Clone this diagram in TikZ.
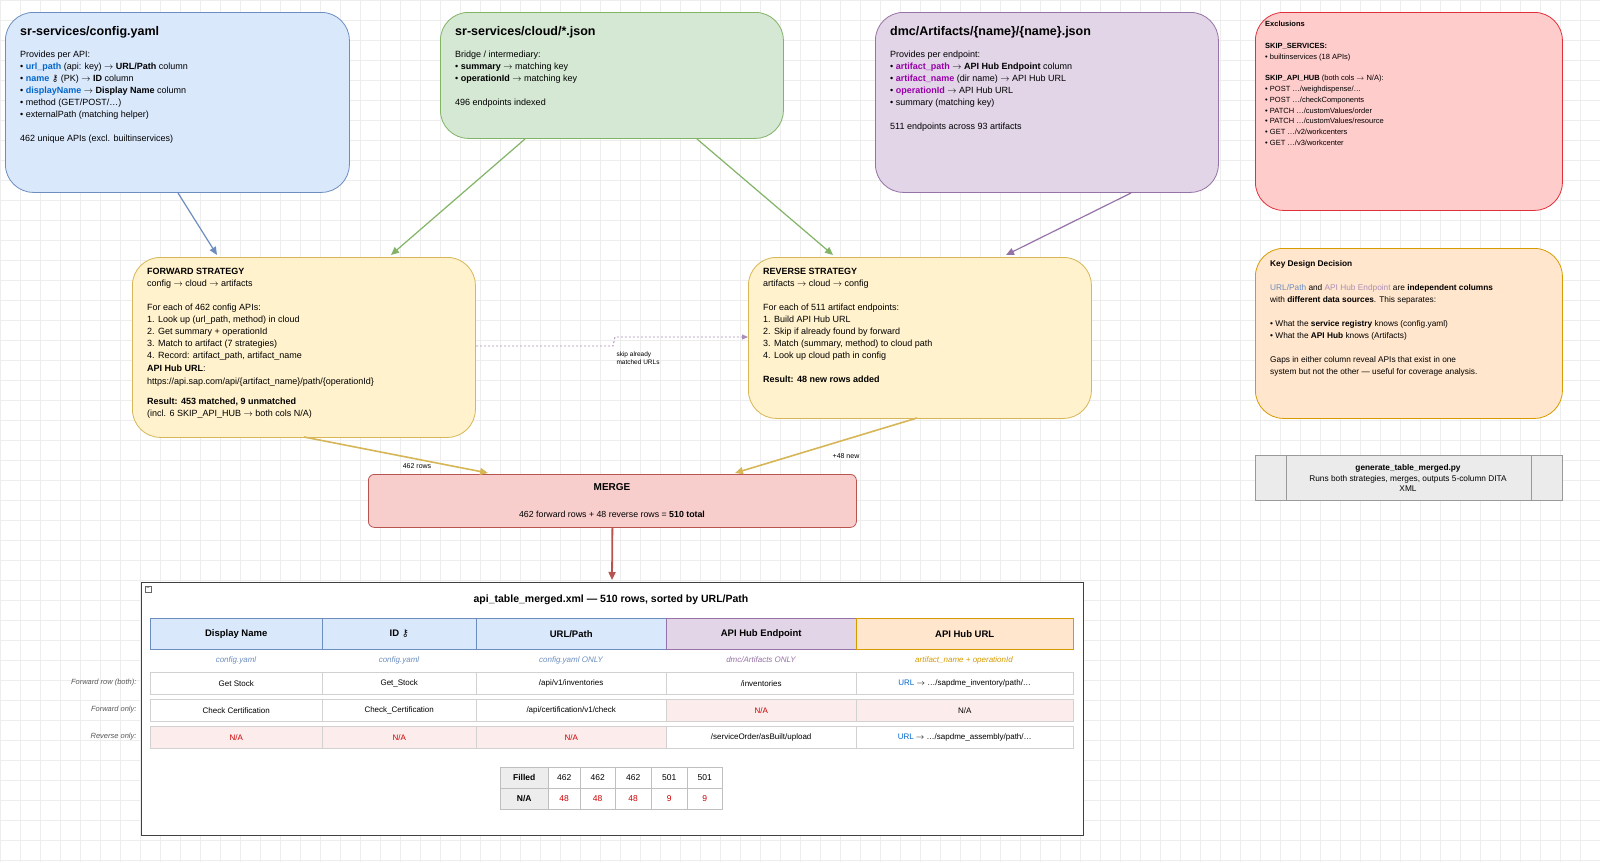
\documentclass[tikz,border=0pt]{standalone}
\usepackage{fontspec}
\setmainfont{Liberation Sans}
\newfontfamily\sym{DejaVu Sans}
\usetikzlibrary{arrows.meta}
\definecolor{bfill}{HTML}{DAE8FC}\definecolor{bline}{HTML}{6C8EBF}
\definecolor{gfill}{HTML}{D5E8D4}\definecolor{gline}{HTML}{82B366}
\definecolor{pfill}{HTML}{E1D5E7}\definecolor{pline}{HTML}{9673A6}
\definecolor{rfill}{HTML}{FFCCCC}\definecolor{rline}{HTML}{E0303A}
\definecolor{yfill}{HTML}{FFF2CC}\definecolor{yline}{HTML}{D6B656}
\definecolor{ofill}{HTML}{FFE6CC}\definecolor{oline}{HTML}{D79B00}
\definecolor{mfill}{HTML}{F8CECC}\definecolor{mline}{HTML}{B85450}
\definecolor{lnk}{HTML}{0066CC}\definecolor{art}{HTML}{9900AA}
\definecolor{nared}{HTML}{CC0000}\definecolor{nafill}{HTML}{FDECEC}
\definecolor{gridc}{HTML}{EDEDED}
\newcommand{\arr}{\(\rightarrow\)}
\newcommand{\keysym}{{\sym ⚷}}
\tikzset{
  x=1pt,y=-1pt,
  box/.style={draw,rounded corners=28pt,line width=0.8pt},
  txt/.style={anchor=north west,align=left,inner sep=0pt,font=\fontsize{9}{12}\selectfont},
  ttl/.style={anchor=west,inner sep=0pt,font=\fontsize{12.5}{14}\selectfont\bfseries},
  con/.style={line width=1.2pt,-{Triangle[length=8pt,width=7pt]}},
  hcell/.style={draw,minimum height=31pt,inner sep=0pt,font=\fontsize{9.5}{11}\selectfont\bfseries},
  cell/.style={draw=black!18,fill=white,minimum height=22pt,inner sep=0pt,font=\fontsize{8}{10}\selectfont},
  src/.style={font=\fontsize{8}{10}\selectfont\itshape},
  rlab/.style={anchor=east,font=\fontsize{7.5}{9}\selectfont\itshape,text=black!65},
  mc/.style={draw=black!25,minimum height=21pt,inner sep=0pt,font=\fontsize{8.5}{10}\selectfont},
}
\begin{document}
\begin{tikzpicture}
\fill[white] (0,0) rectangle (1600,862);
\draw[gridc,line width=0.6pt,step=20pt] (0,0) grid (1600,862);
% sources
\node[box,fill=bfill,draw=bline,minimum width=344pt,minimum height=180pt,anchor=north west] (cfg) at (5,12) {};
\node[ttl] (cfgt) at (20,32) {sr-services/config.yaml};
\node[txt] (cfgb) at (20,51) {Provides per API:\\
• {\bfseries\color{lnk}url\_path} (api: key) \arr{} \textbf{URL/Path} column\\
• {\bfseries\color{lnk}name} \keysym{} (PK) \arr{} \textbf{ID} column\\
• {\bfseries\color{lnk}displayName} \arr{} \textbf{Display Name} column\\
• method (GET/POST/…)\\
• externalPath (matching helper)\\[12pt]
462 unique APIs (excl. builtinservices)};

\node[box,fill=gfill,draw=gline,minimum width=343pt,minimum height=126pt,anchor=north west] (cld) at (440,12) {};
\node[ttl] (cldt) at (455,32) {sr-services/cloud/*.json};
\node[txt] (cldb) at (455,51) {Bridge / intermediary:\\
• \textbf{summary} \arr{} matching key\\
• \textbf{operationId} \arr{} matching key\\[12pt]
496 endpoints indexed};

\node[box,fill=pfill,draw=pline,minimum width=343pt,minimum height=180pt,anchor=north west] (art) at (875,12) {};
\node[ttl] (artt) at (890,32) {dmc/Artifacts/\{name\}/\{name\}.json};
\node[txt] (artb) at (890,51) {Provides per endpoint:\\
• {\bfseries\color{art}artifact\_path} \arr{} \textbf{API Hub Endpoint} column\\
• {\bfseries\color{art}artifact\_name} (dir name) \arr{} API Hub URL\\
• {\bfseries\color{art}operationId} \arr{} API Hub URL\\
• summary (matching key)\\[12pt]
511 endpoints across 93 artifacts};

\node[box,fill=rfill,draw=rline,minimum width=307pt,minimum height=198pt,anchor=north west] (exc) at (1255,12) {};
\node[txt,font=\fontsize{7.5}{10.8}\selectfont] (excb) at (1265,21) {\textbf{Exclusions}\\[10.8pt]
\textbf{SKIP\_SERVICES:}\\
• builtinservices (18 APIs)\\[10.8pt]
\textbf{SKIP\_API\_HUB} (both cols \arr{} N/A):\\
• POST …/weighdispense/…\\
• POST …/checkComponents\\
• PATCH …/customValues/order\\
• PATCH …/customValues/resource\\
• GET …/v2/workcenters\\
• GET …/v3/workcenter};

% strategies
\node[box,fill=yfill,draw=yline,minimum width=343pt,minimum height=180pt,anchor=north west] (fwd) at (132,257) {};
\node[txt] (fwdb) at (147,268) {\textbf{FORWARD STRATEGY}\\
config \arr{} cloud \arr{} artifacts\\[12pt]
For each of 462 config APIs:\\
1. Look up (url\_path, method) in cloud\\
2. Get summary + operationId\\
3. Match to artifact (7 strategies)\\
4. Record: artifact\_path, artifact\_name\\[1pt]
\textbf{API Hub URL}:\\[1pt]
https://api.sap.com/api/\{artifact\_name\}/path/\{operationId\}\\[8pt]
\textbf{Result: 453 matched, 9 unmatched}\\
(incl. 6 SKIP\_API\_HUB \arr{} both cols N/A)};

\node[box,fill=yfill,draw=yline,minimum width=343pt,minimum height=161pt,anchor=north west] (rev) at (748,257) {};
\node[txt] (revb) at (763,268) {\textbf{REVERSE STRATEGY}\\
artifacts \arr{} cloud \arr{} config\\[12pt]
For each of 511 artifact endpoints:\\
1. Build API Hub URL\\
2. Skip if already found by forward\\
3. Match (summary, method) to cloud path\\
4. Look up cloud path in config\\[12pt]
\textbf{Result: 48 new rows added}};

\node[box,fill=ofill,draw=oline,minimum width=307pt,minimum height=170pt,anchor=north west] (key) at (1255,248) {};
\node[txt,font=\fontsize{8.3}{12}\selectfont] (keyb) at (1270,260) {\textbf{Key Design Decision}\\[12pt]
{\color{bline}URL/Path} and {\color{pline!80}API Hub Endpoint} are \textbf{independent columns}\\
with \textbf{different data sources}. This separates:\\[12pt]
• What the \textbf{service registry} knows (config.yaml)\\
• What the \textbf{API Hub} knows (Artifacts)\\[12pt]
Gaps in either column reveal APIs that exist in one\\
system but not the other — useful for coverage analysis.};

\node[draw=black!40,fill=black!8,minimum width=307pt,minimum height=45pt,anchor=north west,inner sep=0pt] (scr) at (1255,455) {};
\draw[black!40] (1286,455) -- (1286,500) (1531,455) -- (1531,500);
\node[align=center,font=\fontsize{8.3}{10.5}\selectfont] (scrt) at (1408,478) {\textbf{generate\_table\_merged.py}\\Runs both strategies, merges, outputs 5-column DITA\\XML};

% merge
\node[draw=mline,fill=mfill,rounded corners=6pt,line width=0.8pt,minimum width=488pt,minimum height=53pt,anchor=north west] (mrg) at (368,474) {};
\node[font=\fontsize{10}{12}\selectfont\bfseries] (mrgt) at (612,487) {MERGE};
\node[font=\fontsize{8.8}{11}\selectfont] (mrgb) at (612,514) {462 forward rows + 48 reverse rows = \textbf{510 total}};

% connectors
\coordinate (c1) at (178,193); \coordinate (c2) at (217,255);
\draw[con,bline] (c1) -- (c2);
\coordinate (g1) at (525,139); \coordinate (g2) at (391,255);
\draw[con,gline] (g1) -- (g2);
\coordinate (g3) at (697,139); \coordinate (g4) at (833,255);
\draw[con,gline] (g3) -- (g4);
\coordinate (p1) at (1131,193); \coordinate (p2) at (1006,255);
\draw[con,pline] (p1) -- (p2);
\coordinate (d1) at (476,346); \coordinate (d2) at (748,337);
\draw[pline!80,line width=0.9pt,dash pattern=on 2pt off 2pt,-{Triangle[length=6pt,width=5pt]}] (d1) -- (613,346) -- (615,337) -- (d2);
\node[anchor=north west,align=left,font=\fontsize{6.5}{8}\selectfont] (dl) at (613,348) {skip already\\matched URLs};
\coordinate (y1) at (304,437); \coordinate (y2) at (488,473);
\draw[con,yline,line width=1.6pt] (y1) -- (y2);
\node[font=\fontsize{7}{8}\selectfont,fill=white,inner sep=1pt] (yl) at (417,466) {462 rows};
\coordinate (y3) at (917,418); \coordinate (y4) at (735,473);
\draw[con,yline,line width=1.6pt] (y3) -- (y4);
\node[font=\fontsize{7}{8}\selectfont,fill=white,inner sep=1pt] (yl2) at (846,456) {+48 new};
\coordinate (m1) at (612,580);
\draw[con,mline,line width=1.8pt] (mrg.south) -- (m1);

% table container
\node[draw=black!75,fill=white,line width=0.9pt,minimum width=942pt,minimum height=253pt,anchor=north west,inner sep=0pt] (tbl) at (141,582) {};
\node[draw=black!60,minimum size=6pt,inner sep=0pt,font=\fontsize{5}{5}\selectfont] (tmin) at (148,589) {--};
\node[font=\fontsize{10.5}{12}\selectfont\bfseries] (tt) at (611,600) {api\_table\_merged.xml — 510 rows, sorted by URL/Path};
% header
\node[hcell,fill=bfill,draw=bline,minimum width=172pt,anchor=north west] (h1) at (150,618) {Display Name};
\node[hcell,fill=bfill,draw=bline,minimum width=154pt,anchor=north west] (h2) at (322,618) {ID \keysym};
\node[hcell,fill=bfill,draw=bline,minimum width=190pt,anchor=north west] (h3) at (476,618) {URL/Path};
\node[hcell,fill=pfill,draw=pline,minimum width=190pt,anchor=north west] (h4) at (666,618) {API Hub Endpoint};
\node[hcell,fill=ofill,draw=oline,minimum width=217pt,anchor=north west] (h5) at (856,618) {API Hub URL};
\node[src,text=bline] (s1) at (236,660) {config.yaml};
\node[src,text=bline] (s2) at (399,660) {config.yaml};
\node[src,text=bline] (s3) at (571,660) {config.yaml ONLY};
\node[src,text=pline] (s4) at (761,660) {dmc/Artifacts ONLY};
\node[src,text=oline] (s5) at (964,660) {artifact\_name + operationId};
% rows
\node[rlab] (l1) at (140,683) {Forward row (both):};
\node[cell,minimum width=172pt,anchor=north west] (a1) at (150,672) {Get Stock};
\node[cell,minimum width=154pt,anchor=north west] (a2) at (322,672) {Get\_Stock};
\node[cell,minimum width=190pt,anchor=north west] (a3) at (476,672) {/api/v1/inventories};
\node[cell,minimum width=190pt,anchor=north west] (a4) at (666,672) {/inventories};
\node[cell,minimum width=217pt,anchor=north west] (a5) at (856,672) {{\color{lnk}URL} \arr{} …/sapdme\_inventory/path/…};
\node[rlab] (l2) at (140,710) {Forward only:};
\node[cell,minimum width=172pt,anchor=north west] (b1) at (150,699) {Check Certification};
\node[cell,minimum width=154pt,anchor=north west] (b2) at (322,699) {Check\_Certification};
\node[cell,minimum width=190pt,anchor=north west] (b3) at (476,699) {/api/certification/v1/check};
\node[cell,fill=nafill,text=nared,minimum width=190pt,anchor=north west] (b4) at (666,699) {N/A};
\node[cell,fill=nafill,minimum width=217pt,anchor=north west] (b5) at (856,699) {N/A};
\node[rlab] (l3) at (140,737) {Reverse only:};
\node[cell,fill=nafill,text=nared,minimum width=172pt,anchor=north west] (r1) at (150,726) {N/A};
\node[cell,fill=nafill,text=nared,minimum width=154pt,anchor=north west] (r2) at (322,726) {N/A};
\node[cell,fill=nafill,text=nared,minimum width=190pt,anchor=north west] (r3) at (476,726) {N/A};
\node[cell,minimum width=190pt,anchor=north west] (r4) at (666,726) {/serviceOrder/asBuilt/upload};
\node[cell,minimum width=217pt,anchor=north west] (r5) at (856,726) {{\color{lnk}URL} \arr{} …/sapdme\_assembly/path/…};
% mini table
\node[mc,fill=black!7,minimum width=48pt,anchor=north west,font=\fontsize{8.5}{10}\selectfont\bfseries] (f0) at (500,767) {Filled};
\node[mc,minimum width=32pt,anchor=north west] (f1) at (548,767) {462};
\node[mc,minimum width=35pt,anchor=north west] (f2) at (580,767) {462};
\node[mc,minimum width=36pt,anchor=north west] (f3) at (615,767) {462};
\node[mc,minimum width=36pt,anchor=north west] (f4) at (651,767) {501};
\node[mc,minimum width=35pt,anchor=north west] (f5) at (687,767) {501};
\node[mc,fill=black!7,minimum width=48pt,anchor=north west,font=\fontsize{8.5}{10}\selectfont\bfseries] (n0) at (500,788) {N/A};
\node[mc,text=nared,minimum width=32pt,anchor=north west] (n1) at (548,788) {48};
\node[mc,text=nared,minimum width=35pt,anchor=north west] (n2) at (580,788) {48};
\node[mc,text=nared,minimum width=36pt,anchor=north west] (n3) at (615,788) {48};
\node[mc,text=nared,minimum width=36pt,anchor=north west] (n4) at (651,788) {9};
\node[mc,text=nared,minimum width=35pt,anchor=north west] (n5) at (687,788) {9};
\pgfresetboundingbox
\path[use as bounding box] (0,0) rectangle (1600,862);
\end{tikzpicture}
\end{document}
